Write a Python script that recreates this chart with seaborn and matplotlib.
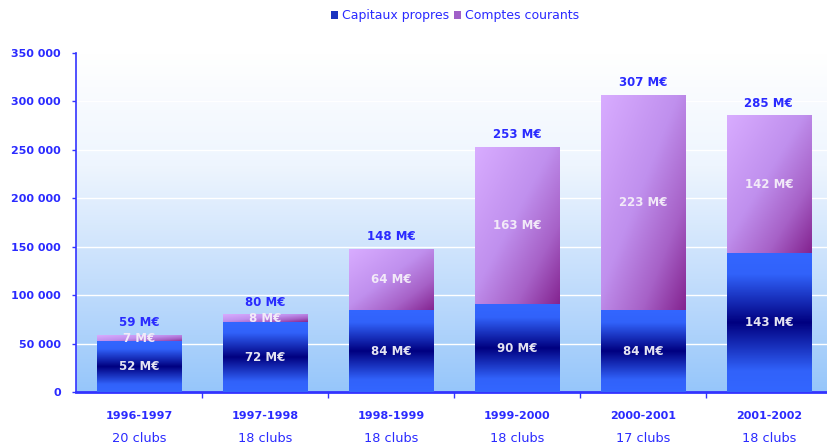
"""
Capitaux propres et comptes courants des clubs (1996-2002), barres empilées.
"""

import numpy as np
import pandas as pd
import matplotlib
matplotlib.use("Agg")
import matplotlib.pyplot as plt
from matplotlib.colors import LinearSegmentedColormap
from matplotlib.patches import Rectangle
import seaborn as sns

# Données (en milliers d'euros)
saisons = ["1996-1997", "1997-1998", "1998-1999", "1999-2000", "2000-2001", "2001-2002"]
clubs = ["20 clubs", "18 clubs", "18 clubs", "18 clubs", "17 clubs", "18 clubs"]
capitaux_propres = [52000, 72000, 84000, 90000, 84000, 143000]
comptes_courants = [7000, 8000, 64000, 163000, 223000, 142000]
totaux_me = [59, 80, 148, 253, 307, 285]
yticks = [0, 50000, 100000, 150000, 200000, 250000, 300000, 350000]
ytick_labels = ["0", "50 000", "100 000", "150 000", "200 000", "250 000", "300 000", "350 000"]

BLEU_TXT = "#2a2aff"

df = pd.DataFrame({
    "saison": saisons,
    "capitaux": capitaux_propres,
    "comptes": comptes_courants,
})
df["total"] = df["capitaux"] + df["comptes"]

sns.set_theme(style="white")
plt.rcParams["font.family"] = ["DejaVu Sans"]

fig = plt.figure(figsize=(8.28, 4.45), dpi=100)
ax = fig.add_axes([76 / 828, 1 - 392 / 445, 752 / 828, 339 / 445])

# Fond dégradé de la zone de tracé (tableau RGB explicite, bas -> haut)
fond = LinearSegmentedColormap.from_list("fond", ["#96c6fa", "#c4defc", "#eef5fe", "#ffffff"])
fond_rgb = fond(np.linspace(0, 1, 256))[:, None, :]
ax.imshow(fond_rgb, aspect="auto", origin="lower",
          extent=[-0.5, 5.47, 0, 350000], zorder=0)

# Barres empilées : total (violet) puis capitaux propres (bleu) par-dessus
sns.barplot(data=df, x="saison", y="total", color="#b070d8", width=0.67, ax=ax,
            saturation=1, zorder=2)
n_tot = len(ax.patches)
sns.barplot(data=df, x="saison", y="capitaux", color="#3366ff", width=0.67, ax=ax,
            saturation=1, zorder=3)

bars_tot = ax.patches[:n_tot]
bars_cap = ax.patches[n_tot:]

violet = LinearSegmentedColormap.from_list(
    "violet", [(0, "#d8acff"), (0.45, "#c090ee"), (0.75, "#a660c6"), (1, "#842490")])
bleu = LinearSegmentedColormap.from_list(
    "bleu", [(0, "#3366ff"), (0.15, "#3162fa"), (0.5, "#000080"), (0.85, "#3162fa"), (1, "#3366ff")])

# dégradé diagonal : clair en haut à gauche, foncé en bas à droite
g = np.add.outer(np.linspace(0, 1, 64), np.linspace(0, 1, 64)) / 2
violet_rgb = violet(g)
bleu_rgb = bleu(np.linspace(0, 1, 200))[:, None, :]

for p_tot, p_cap in zip(bars_tot, bars_cap):
    x0, w = p_tot.get_x(), p_tot.get_width()
    cap_h = p_cap.get_height()
    tot_h = p_tot.get_height()
    ax.imshow(violet_rgb, aspect="auto", origin="upper",
              extent=[x0, x0 + w, cap_h, tot_h], zorder=2, interpolation="bilinear")
    p_tot.set_visible(False)
    ax.imshow(bleu_rgb, aspect="auto", origin="lower",
              extent=[x0, x0 + w, 0, cap_h], zorder=3, interpolation="bilinear")
    p_cap.set_visible(False)

# Étiquettes de valeurs
for i in range(len(saisons)):
    cap = capitaux_propres[i]
    cc = comptes_courants[i]
    tot = cap + cc
    ax.text(i, cap / 2, f"{cap // 1000} M€", ha="center", va="center", color="#e4e4f2",
            fontsize=8.5, fontweight="semibold", zorder=5)
    ax.text(i, cap + cc / 2, f"{cc // 1000} M€", ha="center", va="center", color="#f2eaf8",
            fontsize=8.5, fontweight="semibold", zorder=5)
    ax.text(i, tot + 6000, f"{totaux_me[i]} M€", ha="center", va="bottom", color=BLEU_TXT,
            fontsize=8.5, fontweight="bold", zorder=5)

# Axes
ax.set_xlim(-0.5, 5.47)
ax.set_ylim(0, 350000)
ax.set_yticks(yticks)
ax.set_yticklabels(ytick_labels, color=BLEU_TXT, fontsize=8, fontweight="bold")
ax.set_xticks(range(len(saisons)))
ax.set_xticklabels(saisons, color=BLEU_TXT, fontsize=8, fontweight="bold")
ax.tick_params(axis="x", length=0, pad=14)
ax.tick_params(axis="y", length=3, color="#3333ff", width=1, direction="out", left=True, pad=8)
ax.set_xticks(np.arange(0.5, 5.5, 1), minor=True)
ax.tick_params(axis="x", which="minor", length=4, color="#3333ff", bottom=True, direction="out")
for i, c in enumerate(clubs):
    ax.text(i, -0.137, c, transform=ax.get_xaxis_transform(), ha="center", va="center",
            color=BLEU_TXT, fontsize=9.3)
ax.set_xlabel("")
ax.set_ylabel("")

for y in yticks[1:-1]:
    ax.axhline(y, color="white", lw=1, zorder=1)

for s in ["top", "right"]:
    ax.spines[s].set_visible(False)
ax.spines["left"].set_color("#3333ff")
ax.spines["bottom"].set_color("#3333ff")
ax.spines["left"].set_linewidth(1.2)
ax.spines["bottom"].set_linewidth(2)

# Légende
h1 = Rectangle((0, 0), 1, 1, facecolor="#1a33c0", edgecolor="none")
h2 = Rectangle((0, 0), 1, 1, facecolor="#a060c8", edgecolor="none")
leg = fig.legend([h1, h2], ["Capitaux propres", "Comptes courants"], loc="center",
                 bbox_to_anchor=(455 / 828, 1 - 16 / 445), ncol=2, frameon=False,
                 fontsize=9, handlelength=0.6, handleheight=0.6, handletextpad=0.3,
                 columnspacing=0.4)
for t in leg.get_texts():
    t.set_color(BLEU_TXT)

fig.savefig("out.png", dpi=100, facecolor="white")
